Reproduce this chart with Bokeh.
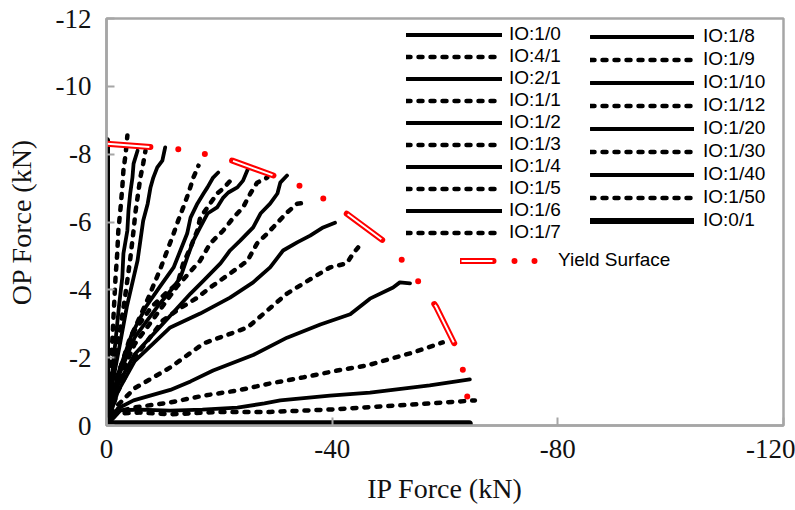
from bokeh.plotting import figure
from bokeh.models import Range1d, FixedTicker, Legend, LegendItem
from bokeh.embed import file_html
from bokeh.resources import INLINE

# ---------------- data (kN) ----------------
LABELS = ["IO:1/0", "IO:4/1", "IO:2/1", "IO:1/1", "IO:1/2", "IO:1/3", "IO:1/4",
          "IO:1/5", "IO:1/6", "IO:1/7", "IO:1/8", "IO:1/9", "IO:1/10", "IO:1/12",
          "IO:1/20", "IO:1/30", "IO:1/40", "IO:1/50", "IO:0/1"]

IP_1_0 = [0, -64.3]
OP_1_0 = [-0.05, -0.05]
IP_4_1 = [0, -1.6, -6, -11.3, -20.2, -29, -39.6, -48.5, -57.3, -65.3]
OP_4_1 = [0, -0.35, -0.38, -0.33, -0.40, -0.40, -0.47, -0.56, -0.65, -0.74]
IP_2_1 = [0, -2.5, -6, -11.3, -17, -23.2, -28, -30.8, -39.6, -46.7, -57.3, -64.4]
OP_2_1 = [0, -0.45, -0.47, -0.44, -0.47, -0.53, -0.65, -0.74, -0.88, -0.97, -1.18, -1.36]
IP_1_1 = [0, -2, -4.8, -11.3, -17.2, -23.2, -29, -34.9, -40.9, -46.2, -50, -54.3, -59.6]
OP_1_1 = [0, -0.4, -0.53, -0.68, -0.88, -1.03, -1.24, -1.42, -1.62, -1.77, -1.95, -2.15, -2.45]
IP_1_2 = [0, -2, -4.8, -11.3, -14.9, -18.9, -26, -32, -37.9, -43.2, -46.7, -50.8, -52, -53.8]
OP_1_2 = [0, -0.5, -0.74, -1.05, -1.3, -1.62, -2.08, -2.59, -2.98, -3.28, -3.74, -4.07, -4.22, -4.19]
IP_1_3 = [0, -2, -5, -11.3, -17.2, -25, -32, -36, -39.6, -42.6, -43.7, -44.6]
OP_1_3 = [0, -0.6, -1.1, -1.71, -2.42, -2.89, -3.89, -4.3, -4.66, -4.78, -5.07, -5.25]
IP_1_4 = [0, -2, -5, -11.3, -16.6, -21.9, -26, -29, -31.3, -33.8, -36.1, -38.4, -40.5]
OP_1_4 = [0, -1.0, -1.9, -2.89, -3.3, -3.77, -4.22, -4.66, -5.16, -5.4, -5.6, -5.84, -5.98]
IP_1_5 = [0, -2, -5, -10, -13, -16.1, -18.4, -21.9, -25, -26.7, -28.5, -30.3, -32, -33.8, -35.6]
OP_1_5 = [0, -1.0, -2.0, -3.1, -3.45, -3.77, -4.07, -4.48, -4.86, -5.37, -5.66, -5.98, -6.28, -6.54, -6.57]
IP_1_6 = [0, -2, -5, -10, -14.9, -17.2, -20.2, -21.9, -23.7, -26, -27.3, -29, -30.3, -30.8, -32]
OP_1_6 = [0, -1.2, -2.1, -3.0, -3.89, -4.27, -4.78, -5.16, -5.45, -5.84, -6.25, -6.54, -6.84, -7.16, -7.37]
IP_1_7 = [0, -2, -5, -9, -12.5, -16.6, -18.4, -20.7, -22.5, -24.2, -25.5, -26.7, -28.5]
OP_1_7 = [0, -1.3, -2.4, -3.3, -4.1, -4.86, -5.37, -5.75, -6.13, -6.43, -6.84, -7.16, -7.31]
IP_1_8 = [0, -2, -5, -9, -11.5, -13.1, -14.3, -15.4, -16.6, -17.9, -19.6, -20.7, -21.6, -23.2, -24.2, -25.1]
OP_1_8 = [0, -1.4, -2.6, -3.5, -4.0, -4.36, -4.95, -5.45, -5.84, -6.25, -6.43, -6.72, -6.87, -7.02, -7.22, -7.58]
IP_1_9 = [0, -2, -5, -8, -10.5, -12.6, -13.6, -14.9, -16.1, -16.6, -17.9, -19.6, -20.7, -22.3]
OP_1_9 = [0, -1.5, -2.8, -3.5, -3.9, -4.19, -4.78, -5.25, -5.75, -6.13, -6.43, -6.84, -6.99, -7.28]
IP_1_10 = [0, -2, -4.5, -7, -9.5, -11.9, -13.1, -14.3, -14.9, -16.1, -17.2, -17.9, -18.9, -19.8]
OP_1_10 = [0, -1.5, -2.7, -3.5, -4.1, -4.66, -5.16, -5.66, -6.13, -6.54, -6.84, -7.02, -7.31, -7.46]
IP_1_12 = [0, -1.5, -4, -7, -9.5, -11.9, -12.7, -13.6, -14.5, -15.4, -16.3]
OP_1_12 = [0, -1.2, -2.5, -3.6, -4.6, -5.66, -6.04, -6.43, -6.84, -7.31, -7.66]
IP_1_20 = [0, -1, -2.5, -3.6, -4.8, -5.5, -6, -6.5, -7.3, -7.8, -8.3, -9, -9.9, -10.4]
OP_1_20 = [0, -1.2, -2.5, -3.5, -4.36, -4.86, -5.45, -6.04, -6.54, -7.02, -7.31, -7.61, -7.81, -8.2]
IP_1_30 = [0, -1, -2.2, -3.3, -4.2, -4.8, -5.1, -5.5, -6, -6.5, -6.9]
OP_1_30 = [0, -1.3, -2.6, -3.8, -4.9, -5.75, -6.25, -6.72, -7.31, -7.72, -8.1]
IP_1_40 = [0, -0.8, -1.6, -2.2, -2.8, -3, -3.7, -3.9, -4.2, -4.6, -4.8, -5.5]
OP_1_40 = [0, -1.2, -2.5, -3.5, -4.36, -5.07, -5.75, -6.34, -6.84, -7.31, -7.72, -8.1]
IP_1_50 = [0, -0.5, -1.0, -1.3, -1.6, -1.9, -2.1, -2.5, -2.8, -3.0, -3.4, -3.7]
OP_1_50 = [0, -1.2, -2.4, -3.4, -4.36, -5.07, -5.75, -6.43, -7.02, -7.52, -8.02, -8.55]
IP_0_1 = [0, 0]
OP_0_1 = [0, -8.4]

YS_IP = [0, -8.7, -13.1, -17.9, -22.3, -30.6, -34.9, -39.1, -42.8, -49.7, -52.9, -55.8, -58.4, -62.1, -63.5, -64.1]
YS_OP = [-8.31, -8.2, -8.14, -7.99, -7.81, -7.31, -7.02, -6.63, -6.22, -5.37, -4.78, -4.13, -3.51, -2.27, -1.44, -0.65]

X_TICKS = [0, -40, -80, -120]
Y_TICKS = [0, -2, -4, -6, -8, -10, -12]

IPS = [IP_1_0, IP_4_1, IP_2_1, IP_1_1, IP_1_2, IP_1_3, IP_1_4, IP_1_5, IP_1_6, IP_1_7,
       IP_1_8, IP_1_9, IP_1_10, IP_1_12, IP_1_20, IP_1_30, IP_1_40, IP_1_50, IP_0_1]
OPS = [OP_1_0, OP_4_1, OP_2_1, OP_1_1, OP_1_2, OP_1_3, OP_1_4, OP_1_5, OP_1_6, OP_1_7,
       OP_1_8, OP_1_9, OP_1_10, OP_1_12, OP_1_20, OP_1_30, OP_1_40, OP_1_50, OP_0_1]

# ---------------- figure ----------------
GRAY = "#a6a6a6"
p = figure(width=795, height=510, x_range=Range1d(0, -120), y_range=Range1d(0, -12),
           output_backend="svg", toolbar_location=None,
           min_border_left=106, min_border_right=12, min_border_top=18, min_border_bottom=85)
p.grid.visible = False
p.background_fill_color = "white"
p.border_fill_color = "white"
p.outline_line_color = GRAY
p.outline_line_width = 2.5

p.xaxis.ticker = FixedTicker(ticks=X_TICKS)
p.yaxis.ticker = FixedTicker(ticks=Y_TICKS)
# plain hyphen-minus labels, as in the reference
p.xaxis.major_label_overrides = {t: str(t) for t in X_TICKS}
p.yaxis.major_label_overrides = {t: str(t) for t in Y_TICKS}
for ax in (p.xaxis, p.yaxis):
    ax.axis_line_color = GRAY
    ax.axis_line_width = 2.5
    ax.major_tick_line_color = GRAY
    ax.major_tick_line_width = 2
    ax.major_tick_in = 8
    ax.major_tick_out = 0
    ax.minor_tick_line_color = None
    ax.major_label_text_font = "Liberation Serif"
    ax.major_label_text_font_size = "27px"
    ax.major_label_text_color = "#111111"
    ax.axis_label_text_font = "Liberation Serif"
    ax.axis_label_text_font_size = "28px"
    ax.axis_label_text_font_style = "normal"
    ax.axis_label_text_color = "#111111"
p.xaxis.axis_label = "IP Force (kN)"
p.yaxis.axis_label = "OP Force (kN)"
p.xaxis.major_label_standoff = 14
p.yaxis.major_label_standoff = 15
p.xaxis.axis_label_standoff = 12
p.yaxis.axis_label_standoff = 16

items1, items2 = [], []
for i, (lab, xs, ys) in enumerate(zip(LABELS, IPS, OPS)):
    dashed = (i % 2 == 1)
    thick = lab in ("IO:1/0", "IO:0/1")
    kw = dict(line_color="black", line_cap="round", line_join="round")
    if dashed:
        r = p.line(xs, ys, line_width=4.5, line_dash="4 8", **kw)
    else:
        r = p.line(xs, ys, line_width=7 if thick else 3.8, **kw)
    leg_r = [r]
    if thick:
        # legend-only proxy: a single vertex of the series, so nothing is stroked in the plot
        proxy = p.line(xs[:1], ys[:1], line_width=4.2 if lab == "IO:1/0" else 6, **kw)
        leg_r = [proxy]
    item = LegendItem(label=lab, renderers=leg_r)
    (items1 if i < 10 else items2).append(item)

# yield surface: outlined long dash followed by two dots
r_red = p.line(YS_IP, YS_OP, line_color="#ff0000", line_width=6, line_cap="round",
               line_dash="44 28 0 27 0 28")
r_wht = p.line(YS_IP, YS_OP, line_color="white", line_width=2, line_cap="butt",
               line_dash="0 1 42 84")
# legend-only proxies (single vertex -> not stroked in the plot)
l_red = p.line(YS_IP[:1], YS_OP[:1], line_color="#ff0000", line_width=6, line_cap="round",
               line_dash="33 21 0 20 0 40")
l_wht = p.line(YS_IP[:1], YS_OP[:1], line_color="white", line_width=2, line_cap="butt",
               line_dash="0 1 31 82")


def mk_legend(items, loc, gw, standoff, spacing, fs="19px"):
    lg = Legend(items=items, location=loc, orientation="vertical",
                glyph_width=gw, glyph_height=21, label_height=21, spacing=spacing,
                label_standoff=standoff, padding=0, margin=0,
                border_line_color=None, background_fill_alpha=0,
                label_text_font="Liberation Sans", label_text_font_size=fs,
                label_text_color="black")
    p.add_layout(lg, "center")
    return lg


mk_legend(items1, (300, 182), 96, 7, 0)
mk_legend(items2, (484, 194), 104, 9, 1)
mk_legend([LegendItem(label="Yield Surface", renderers=[l_red, l_wht])], (354, 154), 84, 14, 0, "19px")

open("out.html", "w").write(file_html(p, INLINE))
